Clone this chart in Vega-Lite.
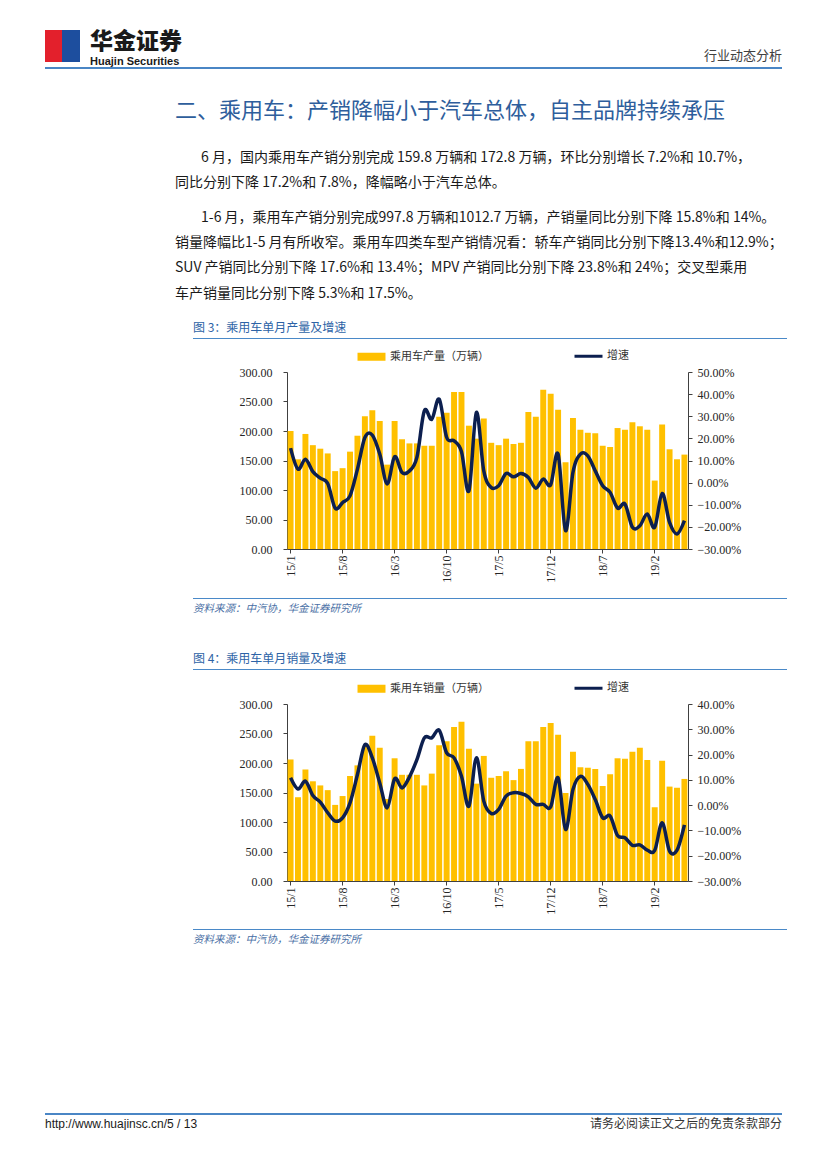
{
  "$schema": "https://vega.github.io/schema/vega-lite/v6.json",
  "background": "white",
  "padding": {"left": 45, "top": 30, "right": 0, "bottom": 0},
  "autosize": {"type": "pad"},
  "spacing": 0,
  "resolve": {"scale": {"color": "independent"}, "legend": {"color": "independent"}},
  "config": {
    "font": "Noto Sans CJK SC",
    "view": {"stroke": null},
    "axis": {"domainColor": "#404040", "tickColor": "#404040", "labelColor": "#262626", "grid": false}
  },
  "datasets": {
    "prod": [
      {"month": "15/1", "value": 200, "yoy": 15.6}, {"month": "15/2", "value": 152, "yoy": 6.1}, {"month": "15/3", "value": 195, "yoy": 10.6}, {"month": "15/4", "value": 176, "yoy": 5.0}, {"month": "15/5", "value": 170, "yoy": 2.0}, {"month": "15/6", "value": 162, "yoy": -0.4}, {"month": "15/7", "value": 132, "yoy": -11.5}, {"month": "15/8", "value": 137, "yoy": -9.0}, {"month": "15/9", "value": 165, "yoy": -6.0}, {"month": "15/10", "value": 192, "yoy": 6.1}, {"month": "15/11", "value": 225, "yoy": 20.4}, {"month": "15/12", "value": 235, "yoy": 21.5},
      {"month": "16/1", "value": 217, "yoy": 12.9}, {"month": "16/2", "value": 143, "yoy": -0.6}, {"month": "16/3", "value": 217, "yoy": 11.7}, {"month": "16/4", "value": 186, "yoy": 4.6}, {"month": "16/5", "value": 179, "yoy": 5.3}, {"month": "16/6", "value": 179, "yoy": 11.4}, {"month": "16/7", "value": 175, "yoy": 32.4}, {"month": "16/8", "value": 175, "yoy": 28.6}, {"month": "16/9", "value": 224, "yoy": 37.7}, {"month": "16/10", "value": 231, "yoy": 20.5}, {"month": "16/11", "value": 266, "yoy": 18.9}, {"month": "16/12", "value": 266, "yoy": 14.0},
      {"month": "17/1", "value": 209, "yoy": -3.7}, {"month": "17/2", "value": 187, "yoy": 31.7}, {"month": "17/3", "value": 221, "yoy": 5.3}, {"month": "17/4", "value": 180, "yoy": -2.2}, {"month": "17/5", "value": 176, "yoy": -1.4}, {"month": "17/6", "value": 187, "yoy": 4.1}, {"month": "17/7", "value": 178, "yoy": 2.6}, {"month": "17/8", "value": 180, "yoy": 4.1}, {"month": "17/9", "value": 232, "yoy": 2.3}, {"month": "17/10", "value": 224, "yoy": -2.5}, {"month": "17/11", "value": 270, "yoy": 1.6}, {"month": "17/12", "value": 263, "yoy": -1.0},
      {"month": "18/1", "value": 236, "yoy": 12.9}, {"month": "18/2", "value": 147, "yoy": -21.7}, {"month": "18/3", "value": 222, "yoy": 4.6}, {"month": "18/4", "value": 202, "yoy": 12.9}, {"month": "18/5", "value": 197, "yoy": 12.1}, {"month": "18/6", "value": 196, "yoy": 5.3}, {"month": "18/7", "value": 175, "yoy": -1.4}, {"month": "18/8", "value": 173, "yoy": -4.4}, {"month": "18/9", "value": 205, "yoy": -11.5}, {"month": "18/10", "value": 202, "yoy": -9.7}, {"month": "18/11", "value": 215, "yoy": -20.2}, {"month": "18/12", "value": 208, "yoy": -19.5},
      {"month": "19/1", "value": 202, "yoy": -14.2}, {"month": "19/2", "value": 116, "yoy": -20.2}, {"month": "19/3", "value": 211, "yoy": -4.9}, {"month": "19/4", "value": 169, "yoy": -18.0}, {"month": "19/5", "value": 152, "yoy": -23.2}, {"month": "19/6", "value": 160, "yoy": -17.2}
    ],
    "sales": [
      {"month": "15/1", "value": 206, "yoy": 10.8}, {"month": "15/2", "value": 142, "yoy": 6.4}, {"month": "15/3", "value": 189, "yoy": 9.5}, {"month": "15/4", "value": 169, "yoy": 3.8}, {"month": "15/5", "value": 162, "yoy": 1.2}, {"month": "15/6", "value": 154, "yoy": -3.0}, {"month": "15/7", "value": 129, "yoy": -6.3}, {"month": "15/8", "value": 144, "yoy": -5.0}, {"month": "15/9", "value": 178, "yoy": 0.9}, {"month": "15/10", "value": 196, "yoy": 12.1}, {"month": "15/11", "value": 228, "yoy": 23.9}, {"month": "15/12", "value": 246, "yoy": 18.7},
      {"month": "16/1", "value": 226, "yoy": 8.8}, {"month": "16/2", "value": 139, "yoy": -1.1}, {"month": "16/3", "value": 208, "yoy": 10.4}, {"month": "16/4", "value": 180, "yoy": 6.8}, {"month": "16/5", "value": 180, "yoy": 11.2}, {"month": "16/6", "value": 180, "yoy": 18.0}, {"month": "16/7", "value": 162, "yoy": 26.6}, {"month": "16/8", "value": 182, "yoy": 26.6}, {"month": "16/9", "value": 230, "yoy": 29.6}, {"month": "16/10", "value": 237, "yoy": 20.7}, {"month": "16/11", "value": 261, "yoy": 18.7}, {"month": "16/12", "value": 270, "yoy": 11.4},
      {"month": "17/1", "value": 224, "yoy": -0.4}, {"month": "17/2", "value": 165, "yoy": 18.7}, {"month": "17/3", "value": 212, "yoy": 1.6}, {"month": "17/4", "value": 175, "yoy": -3.3}, {"month": "17/5", "value": 178, "yoy": -1.7}, {"month": "17/6", "value": 186, "yoy": 3.6}, {"month": "17/7", "value": 171, "yoy": 4.9}, {"month": "17/8", "value": 190, "yoy": 4.6}, {"month": "17/9", "value": 237, "yoy": 3.3}, {"month": "17/10", "value": 237, "yoy": 0.3}, {"month": "17/11", "value": 261, "yoy": 0.3}, {"month": "17/12", "value": 268, "yoy": -0.7},
      {"month": "18/1", "value": 248, "yoy": 10.8}, {"month": "18/2", "value": 149, "yoy": -9.6}, {"month": "18/3", "value": 219, "yoy": 6.2}, {"month": "18/4", "value": 193, "yoy": 11.4}, {"month": "18/5", "value": 192, "yoy": 8.2}, {"month": "18/6", "value": 190, "yoy": 2.2}, {"month": "18/7", "value": 161, "yoy": -5.0}, {"month": "18/8", "value": 181, "yoy": -4.3}, {"month": "18/9", "value": 208, "yoy": -12.0}, {"month": "18/10", "value": 207, "yoy": -12.9}, {"month": "18/11", "value": 219, "yoy": -15.9}, {"month": "18/12", "value": 226, "yoy": -15.7},
      {"month": "19/1", "value": 205, "yoy": -17.8}, {"month": "19/2", "value": 125, "yoy": -17.9}, {"month": "19/3", "value": 204, "yoy": -7.0}, {"month": "19/4", "value": 160, "yoy": -18.2}, {"month": "19/5", "value": 158, "yoy": -17.8}, {"month": "19/6", "value": 173, "yoy": -7.8}
    ]
  },
  "vconcat": [
    {
      "spacing": 0,
      "hconcat": [
        {"width": 17, "height": 32, "data": {"values": [{}]}, "mark": {"type": "rect", "color": "#E3202C"}},
        {"width": 18, "height": 32, "data": {"values": [{}]}, "mark": {"type": "rect", "color": "#1D4E9E"}},
        {"width": 120, "height": 1, "data": {"values": [{}]}, "mark": {"type": "rect", "opacity": 0},
         "title": {"text": "华金证券", "subtitle": "Huajin Securities", "orient": "bottom", "anchor": "start", "frame": "group", "offset": 0, "dx": 10, "fontSize": 23, "fontWeight": 900, "color": "#1a1a1a", "font": "Noto Sans CJK SC", "subtitleFont": "Liberation Sans", "subtitleFontSize": 11, "subtitleFontWeight": "bold", "subtitleColor": "#1a1a1a", "subtitlePadding": 2}},
        {"width": 582, "height": 1, "data": {"values": [{}]}, "mark": {"type": "rect", "opacity": 0},
         "title": {"text": "行业动态分析", "orient": "bottom", "anchor": "end", "frame": "group", "offset": 19, "fontSize": 13, "fontWeight": "normal", "color": "#404040", "font": "Noto Sans CJK SC"}}
      ]
    },
    {"width": 737, "height": 2, "data": {"values": [{}]}, "mark": {"type": "rect", "color": "#4A86C5"}},
    {"width": 737, "height": 1, "data": {"values": [{}]}, "mark": {"type": "rect", "opacity": 0},
     "title": {"text": "二、乘用车：产销降幅小于汽车总体，自主品牌持续承压", "orient": "bottom", "anchor": "start", "frame": "group", "offset": 31, "dx": 130, "fontSize": 22, "fontWeight": "normal", "color": "#2E5E9C", "font": "Noto Sans CJK SC"}},
    {"width": 737, "height": 1, "data": {"values": [{}]}, "mark": {"type": "rect", "opacity": 0},
     "title": {"text": "6 月，国内乘用车产销分别完成 159.8 万辆和 172.8 万辆，环比分别增长 7.2%和 10.7%，", "orient": "bottom", "anchor": "start", "frame": "group", "offset": 28, "dx": 156, "fontSize": 14, "fontWeight": "normal", "color": "#1a1a1a", "font": "Noto Sans CJK SC"}},
    {"width": 737, "height": 1, "data": {"values": [{}]}, "mark": {"type": "rect", "opacity": 0},
     "title": {"text": "同比分别下降 17.2%和 7.8%，降幅略小于汽车总体。", "orient": "bottom", "anchor": "start", "frame": "group", "offset": 10, "dx": 130, "fontSize": 14, "fontWeight": "normal", "color": "#1a1a1a", "font": "Noto Sans CJK SC"}},
    {"width": 737, "height": 1, "data": {"values": [{}]}, "mark": {"type": "rect", "opacity": 0},
     "title": {"text": "1-6 月，乘用车产销分别完成997.8 万辆和1012.7 万辆，产销量同比分别下降 15.8%和 14%。", "orient": "bottom", "anchor": "start", "frame": "group", "offset": 20, "dx": 156, "fontSize": 14, "fontWeight": "normal", "color": "#1a1a1a", "font": "Noto Sans CJK SC"}},
    {"width": 737, "height": 1, "data": {"values": [{}]}, "mark": {"type": "rect", "opacity": 0},
     "title": {"text": ["销量降幅比1-5 月有所收窄。乘用车四类车型产销情况看：轿车产销同比分别下降13.4%和12.9%；", "SUV 产销同比分别下降 17.6%和 13.4%；MPV 产销同比分别下降 23.8%和 24%；交叉型乘用", "车产销量同比分别下降 5.3%和 17.5%。"], "orient": "bottom", "anchor": "start", "frame": "group", "offset": 10, "dx": 130, "fontSize": 14, "lineHeight": 25.3, "fontWeight": "normal", "color": "#1a1a1a", "font": "Noto Sans CJK SC"}},
    {"width": 1, "height": 21, "data": {"values": [{}]}, "mark": {"type": "rect", "opacity": 0}},
    {
      "spacing": 0,
      "hconcat": [
        {"width": 148, "height": 1, "data": {"values": [{}]}, "mark": {"type": "rect", "opacity": 0}},
        {"width": 594, "height": 1, "data": {"values": [{}]}, "mark": {"type": "rect", "color": "#4A89C8"},
         "title": {"text": "图 3：乘用车单月产量及增速", "orient": "top", "anchor": "start", "frame": "group", "offset": 3, "fontSize": 12, "fontWeight": "normal", "color": "#2D63A6", "font": "Noto Sans CJK SC"}}
      ]
    },
    {"width": 1, "height": 10.5, "data": {"values": [{}]}, "mark": {"type": "rect", "opacity": 0}},
    {
      "spacing": 0,
      "bounds": "flush",
      "resolve": {"scale": {"color": "independent"}, "legend": {"color": "independent"}},
      "hconcat": [
        {"width": 242, "height": 1, "data": {"values": [{}]}, "mark": {"type": "rect", "opacity": 0}},
        {
          "width": 401, "height": 177,
          "data": {"name": "prod"},
          "layer": [
            {
              "mark": {"type": "bar"},
              "encoding": {
                "x": {"field": "month", "type": "ordinal", "sort": null, "scale": {"paddingInner": 0.2, "paddingOuter": 0.08},
                      "axis": {"values": ["15/1", "15/8", "16/3", "16/10", "17/5", "17/12", "18/7", "19/2"], "labelAngle": -90, "title": null, "labelFont": "Liberation Serif", "labelFontSize": 12, "tickSize": 4, "labelPadding": 2}},
                "y": {"field": "value", "type": "quantitative", "scale": {"domain": [0, 300], "nice": false, "zero": true},
                      "axis": {"orient": "left", "values": [0, 50, 100, 150, 200, 250, 300], "format": ".2f", "title": null, "labelFont": "Liberation Serif", "labelFontSize": 12, "tickSize": 4, "labelPadding": 11}},
                "color": {"datum": "乘用车产量（万辆）", "type": "nominal",
                          "scale": {"domain": ["乘用车产量（万辆）", "增速"], "range": ["#FFC000", "#0C1F4F"]},
                          "legend": {"orient": "none", "legendX": 79, "legendY": -21.5, "direction": "horizontal", "title": null, "labelFont": "Noto Sans CJK SC", "labelFontSize": 11, "labelColor": "#333333", "columnPadding": 79, "labelOffset": 13, "symbolSize": 87, "padding": 0,
                                     "encode": {"symbols": {"update": {
                                       "shape": {"signal": "datum.value === '增速' ? 'M-3,0H3' : 'M-3,-0.86H3V0.86H-3Z'"},
                                       "fill": {"signal": "datum.value === '增速' ? 'transparent' : '#FFC000'"},
                                       "stroke": {"signal": "datum.value === '增速' ? '#0C1F4F' : 'transparent'"},
                                       "strokeWidth": {"signal": "datum.value === '增速' ? 3 : 0"},
                                       "opacity": {"value": 1}
                                     }}}}}
              }
            },
            {
              "mark": {"type": "line", "interpolate": "cardinal", "strokeWidth": 3.5},
              "encoding": {
                "x": {"field": "month", "type": "ordinal", "sort": null},
                "y": {"field": "yoy", "type": "quantitative", "scale": {"domain": [-30, 50], "nice": false, "zero": false},
                      "axis": {"orient": "right", "values": [-30, -20, -10, 0, 10, 20, 30, 40, 50], "labelExpr": "format(datum.value, '.2f') + '%'", "title": null, "labelFont": "Liberation Serif", "labelFontSize": 12, "tickSize": 4, "labelPadding": 5}},
                "color": {"datum": "增速", "type": "nominal"}
              }
            }
          ],
          "resolve": {"scale": {"y": "independent"}}
        }
      ]
    },
    {"width": 1, "height": 15, "data": {"values": [{}]}, "mark": {"type": "rect", "opacity": 0}},
    {
      "spacing": 0,
      "hconcat": [
        {"width": 148, "height": 1, "data": {"values": [{}]}, "mark": {"type": "rect", "opacity": 0}},
        {"width": 594, "height": 1, "data": {"values": [{}]}, "mark": {"type": "rect", "color": "#4A89C8"},
         "title": {"text": "资料来源：中汽协，华金证券研究所", "orient": "bottom", "anchor": "start", "frame": "group", "offset": 5, "fontSize": 10.5, "fontStyle": "italic", "fontWeight": "normal", "color": "#4A6FA5", "font": "Noto Sans CJK SC"}}
      ]
    },
    {"width": 1, "height": 38, "data": {"values": [{}]}, "mark": {"type": "rect", "opacity": 0}},
    {
      "spacing": 0,
      "hconcat": [
        {"width": 148, "height": 1, "data": {"values": [{}]}, "mark": {"type": "rect", "opacity": 0}},
        {"width": 594, "height": 1, "data": {"values": [{}]}, "mark": {"type": "rect", "color": "#4A89C8"},
         "title": {"text": "图 4：乘用车单月销量及增速", "orient": "top", "anchor": "start", "frame": "group", "offset": 3, "fontSize": 12, "fontWeight": "normal", "color": "#2D63A6", "font": "Noto Sans CJK SC"}}
      ]
    },
    {"width": 1, "height": 12, "data": {"values": [{}]}, "mark": {"type": "rect", "opacity": 0}},
    {
      "spacing": 0,
      "bounds": "flush",
      "resolve": {"scale": {"color": "independent"}, "legend": {"color": "independent"}},
      "hconcat": [
        {"width": 242, "height": 1, "data": {"values": [{}]}, "mark": {"type": "rect", "opacity": 0}},
        {
          "width": 401, "height": 177,
          "data": {"name": "sales"},
          "layer": [
            {
              "mark": {"type": "bar"},
              "encoding": {
                "x": {"field": "month", "type": "ordinal", "sort": null, "scale": {"paddingInner": 0.2, "paddingOuter": 0.08},
                      "axis": {"values": ["15/1", "15/8", "16/3", "16/10", "17/5", "17/12", "18/7", "19/2"], "labelAngle": -90, "title": null, "labelFont": "Liberation Serif", "labelFontSize": 12, "tickSize": 4, "labelPadding": 2}},
                "y": {"field": "value", "type": "quantitative", "scale": {"domain": [0, 300], "nice": false, "zero": true},
                      "axis": {"orient": "left", "values": [0, 50, 100, 150, 200, 250, 300], "format": ".2f", "title": null, "labelFont": "Liberation Serif", "labelFontSize": 12, "tickSize": 4, "labelPadding": 11}},
                "color": {"datum": "乘用车销量（万辆）", "type": "nominal",
                          "scale": {"domain": ["乘用车销量（万辆）", "增速"], "range": ["#FFC000", "#0C1F4F"]},
                          "legend": {"orient": "none", "legendX": 79, "legendY": -21.5, "direction": "horizontal", "title": null, "labelFont": "Noto Sans CJK SC", "labelFontSize": 11, "labelColor": "#333333", "columnPadding": 79, "labelOffset": 13, "symbolSize": 87, "padding": 0,
                                     "encode": {"symbols": {"update": {
                                       "shape": {"signal": "datum.value === '增速' ? 'M-3,0H3' : 'M-3,-0.86H3V0.86H-3Z'"},
                                       "fill": {"signal": "datum.value === '增速' ? 'transparent' : '#FFC000'"},
                                       "stroke": {"signal": "datum.value === '增速' ? '#0C1F4F' : 'transparent'"},
                                       "strokeWidth": {"signal": "datum.value === '增速' ? 3 : 0"},
                                       "opacity": {"value": 1}
                                     }}}}}
              }
            },
            {
              "mark": {"type": "line", "interpolate": "cardinal", "strokeWidth": 3.5},
              "encoding": {
                "x": {"field": "month", "type": "ordinal", "sort": null},
                "y": {"field": "yoy", "type": "quantitative", "scale": {"domain": [-30, 40], "nice": false, "zero": false},
                      "axis": {"orient": "right", "values": [-30, -20, -10, 0, 10, 20, 30, 40], "labelExpr": "format(datum.value, '.2f') + '%'", "title": null, "labelFont": "Liberation Serif", "labelFontSize": 12, "tickSize": 4, "labelPadding": 5}},
                "color": {"datum": "增速", "type": "nominal"}
              }
            }
          ],
          "resolve": {"scale": {"y": "independent"}}
        }
      ]
    },
    {"width": 1, "height": 14, "data": {"values": [{}]}, "mark": {"type": "rect", "opacity": 0}},
    {
      "spacing": 0,
      "hconcat": [
        {"width": 148, "height": 1, "data": {"values": [{}]}, "mark": {"type": "rect", "opacity": 0}},
        {"width": 594, "height": 1, "data": {"values": [{}]}, "mark": {"type": "rect", "color": "#4A89C8"},
         "title": {"text": "资料来源：中汽协，华金证券研究所", "orient": "bottom", "anchor": "start", "frame": "group", "offset": 5, "fontSize": 10.5, "fontStyle": "italic", "fontWeight": "normal", "color": "#4A6FA5", "font": "Noto Sans CJK SC"}}
      ]
    },
    {"width": 1, "height": 167, "data": {"values": [{}]}, "mark": {"type": "rect", "opacity": 0}},
    {"width": 737, "height": 2, "data": {"values": [{}]}, "mark": {"type": "rect", "color": "#4A86C5"}},
    {
      "spacing": 0,
      "hconcat": [
        {"width": 368, "height": 1, "data": {"values": [{}]}, "mark": {"type": "rect", "opacity": 0},
         "title": {"text": "http://www.huajinsc.cn/5 / 13", "orient": "bottom", "anchor": "start", "frame": "group", "offset": 3, "fontSize": 12, "fontWeight": "normal", "color": "#1a1a1a", "font": "Liberation Sans"}},
        {"width": 369, "height": 1, "data": {"values": [{}]}, "mark": {"type": "rect", "opacity": 0},
         "title": {"text": "请务必阅读正文之后的免责条款部分", "orient": "bottom", "anchor": "end", "frame": "group", "offset": 3, "fontSize": 12, "fontWeight": "normal", "color": "#333333", "font": "Noto Sans CJK SC"}}
      ]
    }
  ]
}
